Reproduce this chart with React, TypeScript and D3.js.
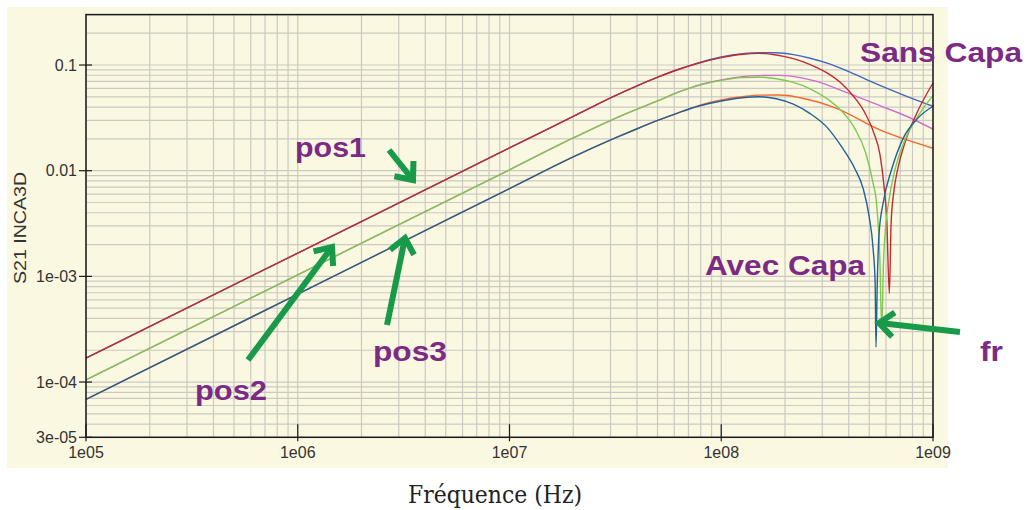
import React from 'react';
import * as d3 from 'd3';

// ---- axis ticks ----
const X_TICKS = [1e5, 1e6, 1e7, 1e8, 1e9];
const X_TICK_LABELS = ['1e05', '1e06', '1e07', '1e08', '1e09'];
const Y_TICKS = [3e-5, 1e-4, 1e-3, 1e-2, 1e-1];
const Y_TICK_LABELS = ['3e-05', '1e-04', '1e-03', '0.01', '0.1'];

// ---- series (frequency in Hz, S21 magnitude) ----
// pos1, sans capa
const pos1SansFreq = [1e5, 1e6, 1e7, 2.0e7, 3.16e7, 3.98e7, 5.01e7, 6.31e7, 7.94e7, 1e8, 1.26e8, 1.51e8, 1.82e8, 2.19e8, 2.63e8, 3.27e8, 3.98e8, 5.01e8, 6.31e8, 7.94e8, 1e9];
const pos1SansS21 = [1.68e-4, 1.66e-3, 1.64e-2, 0.0326, 0.0513, 0.0631, 0.0767, 0.0912, 0.106, 0.119, 0.128, 0.131, 0.1306, 0.1253, 0.116, 0.102, 0.0871, 0.0708, 0.0582, 0.0484, 0.0407];
// pos2, sans capa
const pos2SansFreq = [1e5, 1e6, 1e7, 2.0e7, 3.16e7, 3.98e7, 5.01e7, 6.31e7, 7.94e7, 1e8, 1.26e8, 1.51e8, 1.89e8, 2.36e8, 2.82e8, 3.89e8, 5.62e8, 7.59e8, 1e9];
const pos2SansS21 = [1.05e-4, 1.035e-3, 1.02e-2, 0.0204, 0.0313, 0.038, 0.0457, 0.0556, 0.0653, 0.0724, 0.0776, 0.0794, 0.0798, 0.0759, 0.07, 0.055, 0.0412, 0.0324, 0.0247];
// pos3, sans capa
const pos3SansFreq = [1e5, 1e6, 1e7, 2.0e7, 3.16e7, 3.98e7, 5.01e7, 6.31e7, 7.94e7, 1e8, 1.26e8, 1.51e8, 1.89e8, 2.36e8, 3.5e8, 5.62e8, 1e9];
const pos3SansS21 = [6.87e-5, 6.79e-4, 6.76e-3, 0.0135, 0.0204, 0.0248, 0.0299, 0.0355, 0.0417, 0.0468, 0.0501, 0.0519, 0.052, 0.049, 0.0389, 0.0243, 0.0163];
// pos1, avec capa
const pos1AvecFreq = [1e5, 1e6, 1e7, 2.0e7, 3.16e7, 3.98e7, 5.01e7, 6.31e7, 7.94e7, 1e8, 1.26e8, 1.51e8, 1.82e8, 2.19e8, 2.63e8, 3.16e8, 3.72e8, 4.27e8, 4.79e8, 5.25e8, 5.62e8, 5.86e8, 6.05e8, 6.22e8, 6.34e8, 6.53e8, 6.84e8, 7.41e8, 8.32e8, 1e9];
const pos1AvecS21 = [1.68e-4, 1.66e-3, 1.64e-2, 0.0326, 0.0513, 0.0631, 0.0767, 0.0912, 0.105, 0.1175, 0.1265, 0.129, 0.1245, 0.1148, 0.101, 0.0841, 0.0661, 0.049, 0.0347, 0.0229, 0.0141, 0.00741, 0.00339, 6.9e-4, 3.16e-3, 6.3e-3, 0.0107, 0.019, 0.0339, 0.0676];
// pos2, avec capa
const pos2AvecFreq = [1e5, 1e6, 1e7, 2.0e7, 3.16e7, 3.98e7, 5.01e7, 6.31e7, 7.94e7, 1e8, 1.26e8, 1.51e8, 1.82e8, 2.19e8, 2.63e8, 3.16e8, 3.72e8, 4.27e8, 4.79e8, 5.19e8, 5.43e8, 5.6e8, 5.73e8, 5.83e8, 5.96e8, 6.17e8, 6.61e8, 7.41e8, 8.71e8, 1e9];
const pos2AvecS21 = [1.05e-4, 1.035e-3, 1.02e-2, 0.0204, 0.0313, 0.038, 0.0457, 0.0556, 0.0646, 0.0716, 0.0759, 0.0767, 0.0741, 0.0684, 0.0596, 0.0479, 0.0363, 0.0251, 0.0151, 0.00794, 0.00457, 0.00166, 3.16e-4, 1.26e-3, 2.82e-3, 5.0e-3, 0.0102, 0.02, 0.0355, 0.0513];
// pos3, avec capa
const pos3AvecFreq = [1e5, 1e6, 1e7, 2.0e7, 3.16e7, 3.98e7, 5.01e7, 6.31e7, 7.94e7, 1e8, 1.26e8, 1.51e8, 1.82e8, 2.19e8, 2.63e8, 3.16e8, 3.72e8, 4.27e8, 4.68e8, 4.99e8, 5.22e8, 5.33e8, 5.38e8, 5.45e8, 5.56e8, 5.82e8, 6.37e8, 7.21e8, 8.51e8, 1e9];
const pos3AvecS21 = [6.87e-5, 6.79e-4, 6.76e-3, 0.0135, 0.0204, 0.0248, 0.0299, 0.0355, 0.0412, 0.0457, 0.049, 0.0501, 0.0479, 0.0427, 0.0347, 0.0257, 0.0166, 0.0105, 0.00676, 0.00372, 0.00178, 8.7e-4, 2.14e-4, 7.9e-4, 2.51e-3, 5.0e-3, 0.0102, 0.02, 0.0316, 0.0407];

const SERIES_NAMES = ['pos1 sans capa', 'pos2 sans capa', 'pos3 sans capa', 'pos1 avec capa', 'pos2 avec capa', 'pos3 avec capa'];
const SERIES_FREQS = [pos1SansFreq, pos2SansFreq, pos3SansFreq, pos1AvecFreq, pos2AvecFreq, pos3AvecFreq];
const SERIES_VALUES = [pos1SansS21, pos2SansS21, pos3SansS21, pos1AvecS21, pos2AvecS21, pos3AvecS21];
const SERIES_COLORS = ['#4068bd', '#cf6ec8', '#f7672c', '#c22a30', '#7cca4e', '#1f6296'];

// ---- annotations ----
const LABELS = [
  { text: 'pos1', x: 295, y: 157, len: 71 },
  { text: 'pos2', x: 195, y: 400, len: 72 },
  { text: 'pos3', x: 373, y: 361, len: 74 },
  { text: 'Avec Capa', x: 705, y: 275, len: 160 },
  { text: 'Sans Capa', x: 860, y: 62, len: 162 },
  { text: 'fr', x: 980, y: 361, len: 23 },
];
const ARROWS = [
  { x1: 389, y1: 150, x2: 413, y2: 180 },
  { x1: 248, y1: 360, x2: 332, y2: 247 },
  { x1: 387, y1: 325, x2: 405, y2: 238 },
  { x1: 960, y1: 332, x2: 879, y2: 323 },
];

const W = 1027;
const H = 510;
const M = { left: 86, right: 933, top: 14.6, bottom: 437.3 };

export default function App() {
  const x = d3.scaleLog().domain([1e5, 1e9]).range([M.left, M.right]);
  const y = d3.scaleLog().domain([3e-5, 0.3]).range([M.bottom, M.top]);
  const xGrid = x.ticks();
  const yGrid = y.ticks();
  const line = d3
    .line<[number, number]>()
    .x((d) => x(d[0]))
    .y((d) => y(d[1]))
    .curve(d3.curveMonotoneX);

  const purple = '#7b2b84';
  const green = '#189a4a';

  const arrowHead = (a: { x1: number; y1: number; x2: number; y2: number }) => {
    const dx = a.x2 - a.x1;
    const dy = a.y2 - a.y1;
    const L = Math.hypot(dx, dy);
    const ux = dx / L;
    const uy = dy / L;
    const len = 19;
    const th = (40 * Math.PI) / 180;
    const rot = (t: number) => [ux * Math.cos(t) - uy * Math.sin(t), ux * Math.sin(t) + uy * Math.cos(t)];
    const [ax, ay] = rot(th);
    const [bx, by] = rot(-th);
    return `M${a.x2 - len * ax},${a.y2 - len * ay}L${a.x2},${a.y2}L${a.x2 - len * bx},${a.y2 - len * by}`;
  };

  return (
    <svg
      width={W}
      height={H}
      style={{ position: 'absolute', left: 0, top: 0, background: '#ffffff' }}
      fontFamily="'Liberation Sans', Arial, sans-serif"
    >
      <rect x={7} y={7} width={941} height={461} fill="#fbf8e2" />
      {/* grid */}
      <g stroke="#cbc9c2" strokeWidth={1.2}>
        {xGrid.map((t, i) => (
          <line key={'xg' + i} x1={x(t)} x2={x(t)} y1={M.top} y2={M.bottom} />
        ))}
        {yGrid.map((t, i) => (
          <line key={'yg' + i} x1={M.left} x2={M.right} y1={y(t)} y2={y(t)} />
        ))}
      </g>
      {/* series */}
      <g fill="none" strokeWidth={1.4}>
        {SERIES_NAMES.map((name, i) => (
          <path
            key={name}
            d={line(SERIES_FREQS[i].map((f, j) => [f, SERIES_VALUES[i][j]] as [number, number])) || ''}
            stroke={SERIES_COLORS[i]}
          />
        ))}
      </g>
      {/* frame */}
      <rect x={M.left} y={M.top} width={M.right - M.left} height={M.bottom - M.top} fill="none" stroke="#1a1a1a" strokeWidth={1.5} />
      {/* x ticks */}
      <g>
        {X_TICKS.map((t, i) => (
          <g key={'xt' + i}>
            <line x1={x(t)} x2={x(t)} y1={M.bottom - 13} y2={M.bottom + 4} stroke="#1a1a1a" strokeWidth={1.2} />
            <text x={x(t)} y={M.bottom + 21} fontSize={16} textAnchor="middle" fill="#333">
              {X_TICK_LABELS[i]}
            </text>
          </g>
        ))}
      </g>
      {/* y ticks */}
      <g>
        {Y_TICKS.map((t, i) => (
          <g key={'yt' + i}>
            <line x1={M.left - 7} x2={M.left + 6} y1={y(t)} y2={y(t)} stroke="#1a1a1a" strokeWidth={1.2} />
            <text x={M.left - 9} y={y(t)} dy="0.36em" fontSize={16} textAnchor="end" fill="#333">
              {Y_TICK_LABELS[i]}
            </text>
          </g>
        ))}
      </g>
      <text
        transform={`translate(26,${(M.top + M.bottom) / 2 + 2}) rotate(-90)`}
        textAnchor="middle"
        fontSize={16}
        fill="#333"
        textLength={112}
        lengthAdjust="spacingAndGlyphs"
      >
        S21 INCA3D
      </text>
      <text
        x={495}
        y={503}
        textAnchor="middle"
        fontFamily="'DejaVu Serif', serif"
        fontSize={24}
        fill="#222"
        textLength={174}
        lengthAdjust="spacingAndGlyphs"
      >
        Fréquence (Hz)
      </text>
      {/* annotations */}
      <g fill="none" stroke={green} strokeWidth={6}>
        {ARROWS.map((a, i) => (
          <g key={'ar' + i}>
            <line x1={a.x1} y1={a.y1} x2={a.x2 - ((a.x2 - a.x1) / Math.hypot(a.x2 - a.x1, a.y2 - a.y1)) * 3} y2={a.y2 - ((a.y2 - a.y1) / Math.hypot(a.x2 - a.x1, a.y2 - a.y1)) * 3} />
            <path d={arrowHead(a)} strokeLinejoin="miter" />
          </g>
        ))}
      </g>
      <g fill={purple} fontWeight="bold" fontSize={28}>
        {LABELS.map((l) => (
          <text key={l.text} x={l.x} y={l.y} textLength={l.len} lengthAdjust="spacingAndGlyphs">
            {l.text}
          </text>
        ))}
      </g>
    </svg>
  );
}
